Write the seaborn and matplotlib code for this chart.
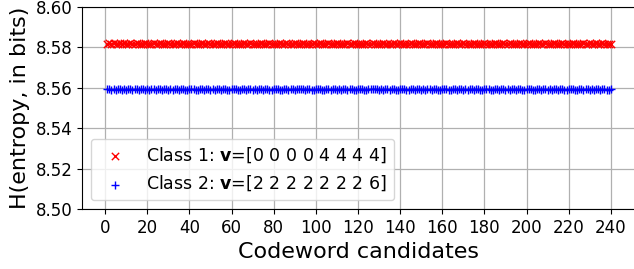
import matplotlib
matplotlib.use("Agg")
import matplotlib.pyplot as plt
import seaborn as sns
import pandas as pd

candidates = list(range(1, 241))

class1_entropy = [
    8.5818, 8.5820, 8.5816, 8.5821, 8.5819, 8.5817, 8.5822, 8.5818, 8.5820, 8.5816,
    8.5819, 8.5821, 8.5817, 8.5818, 8.5820, 8.5815, 8.5819, 8.5818, 8.5821, 8.5817,
    8.5819, 8.5816, 8.5820, 8.5818, 8.5817, 8.5821, 8.5819, 8.5818, 8.5816, 8.5820,
    8.5818, 8.5817, 8.5819, 8.5821, 8.5818, 8.5816, 8.5820, 8.5817, 8.5819, 8.5818,
    8.5817, 8.5820, 8.5818, 8.5816, 8.5819, 8.5821, 8.5817, 8.5818, 8.5820, 8.5819,
    8.5816, 8.5818, 8.5821, 8.5817, 8.5819, 8.5818, 8.5820, 8.5816, 8.5818, 8.5819,
    8.5820, 8.5817, 8.5819, 8.5816, 8.5818, 8.5821, 8.5818, 8.5817, 8.5820, 8.5818,
    8.5816, 8.5819, 8.5817, 8.5820, 8.5818, 8.5815, 8.5819, 8.5821, 8.5817, 8.5818,
    8.5819, 8.5817, 8.5821, 8.5818, 8.5816, 8.5820, 8.5818, 8.5819, 8.5817, 8.5821,
    8.5818, 8.5816, 8.5819, 8.5820, 8.5817, 8.5818, 8.5816, 8.5819, 8.5821, 8.5818,
    8.5817, 8.5820, 8.5819, 8.5816, 8.5818, 8.5821, 8.5817, 8.5819, 8.5818, 8.5820,
    8.5816, 8.5818, 8.5819, 8.5817, 8.5821, 8.5818, 8.5816, 8.5820, 8.5818, 8.5817,
    8.5819, 8.5818, 8.5816, 8.5820, 8.5817, 8.5819, 8.5821, 8.5818, 8.5816, 8.5819,
    8.5817, 8.5820, 8.5818, 8.5816, 8.5819, 8.5818, 8.5821, 8.5817, 8.5818, 8.5820,
    8.5816, 8.5819, 8.5817, 8.5818, 8.5820, 8.5816, 8.5819, 8.5818, 8.5821, 8.5817,
    8.5818, 8.5816, 8.5820, 8.5819, 8.5817, 8.5818, 8.5821, 8.5816, 8.5819, 8.5818,
    8.5817, 8.5820, 8.5818, 8.5819, 8.5816, 8.5818, 8.5820, 8.5817, 8.5819, 8.5821,
    8.5818, 8.5816, 8.5819, 8.5817, 8.5820, 8.5818, 8.5816, 8.5819, 8.5818, 8.5821,
    8.5817, 8.5819, 8.5818, 8.5816, 8.5820, 8.5817, 8.5819, 8.5818, 8.5821, 8.5816,
    8.5818, 8.5820, 8.5817, 8.5819, 8.5816, 8.5818, 8.5821, 8.5819, 8.5817, 8.5818,
    8.5820, 8.5816, 8.5819, 8.5818, 8.5817, 8.5821, 8.5818, 8.5816, 8.5820, 8.5819,
    8.5817, 8.5818, 8.5820, 8.5816, 8.5819, 8.5817, 8.5821, 8.5818, 8.5816, 8.5819,
    8.5818, 8.5820, 8.5817, 8.5819, 8.5816, 8.5818, 8.5821, 8.5817, 8.5819, 8.5822,
    8.5818, 8.5816, 8.5820, 8.5817, 8.5819, 8.5821, 8.5818, 8.5816, 8.5819, 8.5817,
]

class2_entropy = [
    8.5592, 8.5594, 8.5590, 8.5593, 8.5591, 8.5595, 8.5592, 8.5589, 8.5593, 8.5591,
    8.5594, 8.5592, 8.5590, 8.5596, 8.5593, 8.5591, 8.5592, 8.5594, 8.5590, 8.5593,
    8.5591, 8.5592, 8.5595, 8.5590, 8.5593, 8.5592, 8.5591, 8.5594, 8.5592, 8.5590,
    8.5593, 8.5591, 8.5592, 8.5594, 8.5590, 8.5592, 8.5593, 8.5591, 8.5589, 8.5593,
    8.5592, 8.5594, 8.5591, 8.5590, 8.5593, 8.5592, 8.5591, 8.5594, 8.5592, 8.5590,
    8.5593, 8.5591, 8.5592, 8.5595, 8.5590, 8.5592, 8.5593, 8.5591, 8.5590, 8.5593,
    8.5592, 8.5594, 8.5591, 8.5590, 8.5593, 8.5592, 8.5589, 8.5594, 8.5592, 8.5590,
    8.5593, 8.5591, 8.5592, 8.5594, 8.5590, 8.5592, 8.5593, 8.5591, 8.5590, 8.5593,
    8.5592, 8.5595, 8.5591, 8.5590, 8.5593, 8.5592, 8.5591, 8.5594, 8.5592, 8.5590,
    8.5593, 8.5596, 8.5592, 8.5594, 8.5590, 8.5592, 8.5593, 8.5591, 8.5590, 8.5593,
    8.5592, 8.5594, 8.5591, 8.5590, 8.5593, 8.5592, 8.5591, 8.5594, 8.5592, 8.5590,
    8.5593, 8.5591, 8.5592, 8.5594, 8.5590, 8.5592, 8.5593, 8.5591, 8.5590, 8.5593,
    8.5592, 8.5594, 8.5591, 8.5590, 8.5593, 8.5592, 8.5595, 8.5594, 8.5592, 8.5590,
    8.5593, 8.5591, 8.5592, 8.5594, 8.5590, 8.5592, 8.5593, 8.5591, 8.5589, 8.5593,
    8.5592, 8.5594, 8.5591, 8.5590, 8.5593, 8.5592, 8.5591, 8.5594, 8.5592, 8.5590,
    8.5593, 8.5591, 8.5592, 8.5594, 8.5590, 8.5592, 8.5593, 8.5591, 8.5590, 8.5593,
    8.5592, 8.5594, 8.5591, 8.5590, 8.5593, 8.5592, 8.5591, 8.5594, 8.5592, 8.5590,
    8.5593, 8.5591, 8.5592, 8.5594, 8.5590, 8.5592, 8.5595, 8.5591, 8.5590, 8.5593,
    8.5592, 8.5594, 8.5591, 8.5590, 8.5593, 8.5592, 8.5591, 8.5594, 8.5592, 8.5590,
    8.5593, 8.5591, 8.5592, 8.5594, 8.5590, 8.5592, 8.5593, 8.5591, 8.5590, 8.5593,
    8.5592, 8.5594, 8.5591, 8.5590, 8.5593, 8.5592, 8.5591, 8.5594, 8.5592, 8.5590,
    8.5593, 8.5591, 8.5595, 8.5594, 8.5590, 8.5592, 8.5593, 8.5591, 8.5590, 8.5593,
    8.5592, 8.5594, 8.5591, 8.5590, 8.5593, 8.5592, 8.5591, 8.5594, 8.5592, 8.5590,
    8.5593, 8.5591, 8.5592, 8.5594, 8.5590, 8.5592, 8.5593, 8.5591, 8.5590, 8.5593,
]

label1 = r"Class 1: $\mathbf{v}$=[0 0 0 0 4 4 4 4]"
label2 = r"Class 2: $\mathbf{v}$=[2 2 2 2 2 2 2 6]"

df1 = pd.DataFrame({"x": candidates, "y": class1_entropy})
df2 = pd.DataFrame({"x": candidates, "y": class2_entropy})

fig = plt.figure(figsize=(6.34, 2.69), dpi=100)
ax = fig.add_axes([82 / 634, 60 / 269, (636 - 82) / 634, (209 - 7) / 269])

sns.scatterplot(data=df1, x="x", y="y", marker="x", color="red", s=28,
                linewidth=1.0, ax=ax, label=label1, zorder=3)
sns.scatterplot(data=df2, x="x", y="y", marker="+", color="blue", s=32,
                linewidth=1.0, ax=ax, label=label2, zorder=3)

ax.set_ylim(8.50, 8.60)
ax.set_yticks([8.50, 8.52, 8.54, 8.56, 8.58, 8.60])
ax.set_xticks(list(range(0, 241, 20)))
ax.grid(True, color="#b0b0b0", linewidth=0.9)
ax.set_axisbelow(True)
ax.tick_params(labelsize=12)
ax.set_xlabel("Codeword candidates", fontsize=16)
ax.set_ylabel("H(entropy, in bits)", fontsize=16)
ax.legend(loc="lower left", fontsize=12.5)

fig.savefig("out.png", dpi=100)
